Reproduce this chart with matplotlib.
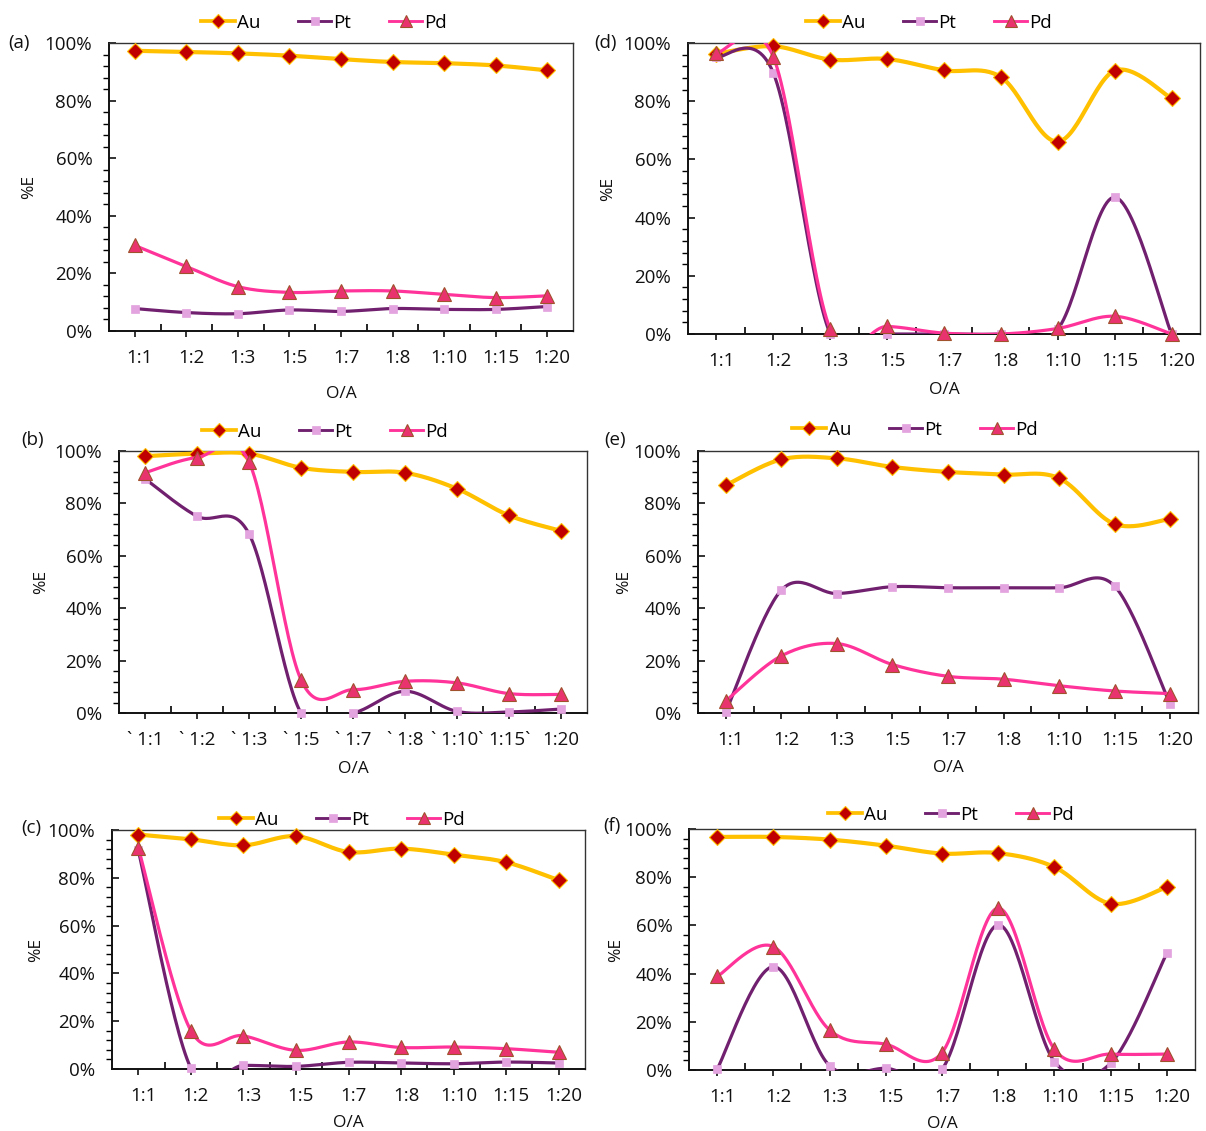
import numpy as np
import matplotlib
matplotlib.use("Agg")
import matplotlib.pyplot as plt
from matplotlib.ticker import FixedLocator, PercentFormatter
from matplotlib.transforms import ScaledTranslation

plt.rcParams['font.family'] = ['Open Sans', 'DejaVu Sans']

categories = ["1:1", "1:2", "1:3", "1:5", "1:7", "1:8", "1:10", "1:15", "1:20"]
labels_b = ["` 1:1", "` 1:2", "` 1:3", "` 1:5", "` 1:7", "` 1:8", "` 1:10`", "1:15`", "1:20"]

# values in % extraction
a_au = [97.3, 96.9, 96.4, 95.6, 94.4, 93.4, 93.0, 92.2, 90.5]
a_pt = [7.8, 6.4, 6.0, 7.3, 6.8, 7.8, 7.5, 7.5, 8.5]
a_pd = [29.7, 22.4, 15.4, 13.4, 13.9, 13.9, 12.7, 11.6, 12.2]

b_au = [98.0, 99.0, 99.0, 93.6, 92.0, 91.7, 85.6, 75.4, 69.5]
b_pt = [89.4, 75.1, 68.4, 0.0, 0.0, 8.3, 0.6, 0.4, 1.5]
b_pd = [91.7, 97.5, 95.8, 12.7, 8.9, 12.1, 11.5, 7.4, 7.1]

c_au = [98.1, 96.1, 93.6, 97.4, 90.8, 92.2, 89.7, 86.5, 79.0]
c_pt = [91.5, 0.4, 1.5, 1.1, 2.8, 2.5, 2.2, 2.9, 2.5]
c_pd = [92.6, 16.1, 13.9, 7.8, 11.3, 9.0, 9.2, 8.5, 7.0]

d_au = [96.3, 98.9, 94.3, 94.5, 90.6, 88.3, 66.1, 90.5, 81.0]
d_pt = [95.2, 89.7, 0.0, 0.0, 0.0, 0.0, 1.7, 47.0, 0.0]
d_pd = [96.6, 95.2, 1.7, 2.6, 0.3, 0.0, 1.9, 6.1, 0.0]

e_au = [86.9, 96.8, 97.2, 93.9, 92.0, 91.0, 89.6, 72.1, 74.1]
e_pt = [0.4, 46.9, 45.6, 48.2, 47.8, 47.8, 47.8, 48.4, 3.3]
e_pd = [4.6, 21.8, 26.5, 18.5, 14.0, 12.9, 10.4, 8.4, 7.4]

f_au = [96.7, 96.7, 95.6, 93.1, 89.8, 90.0, 84.2, 69.0, 75.9]
f_pt = [0.3, 42.9, 1.8, 0.7, 0.3, 60.2, 3.5, 2.8, 48.5]
f_pd = [38.8, 51.2, 16.6, 10.7, 7.2, 67.2, 8.6, 6.6, 6.6]

W, H = 1206, 1131
fig = plt.figure(figsize=(W / 100, H / 100), dpi=100)

# panel layout in pixels: box (left, right, top, bottom), ylabel x, xlabel y, tag x, tag y,
# legend center x, legend y, tick-label x shift
panels = [
    ("(a)", a_au, a_pt, a_pd, categories, (109, 573, 43, 331), 28, 392, 8, 43, 324, 23, 5),
    ("(d)", d_au, d_pt, d_pd, categories, (688, 1200, 43, 334), 607, 388, 594, 43, 929, 23, 5),
    ("(b)", b_au, b_pt, b_pd, labels_b, (119, 587, 451, 713), 40, 767, 21, 440, 325, 432, 0),
    ("(e)", e_au, e_pt, e_pd, categories, (698, 1198, 451, 713), 623, 766, 604, 440, 915, 430, 5),
    ("(c)", c_au, c_pt, c_pd, categories, (112, 585, 830, 1069), 35, 1121, 21, 828, 342, 820, 5),
    ("(f)", f_au, f_pt, f_pd, categories, (689, 1195, 829, 1070), 615, 1122, 603, 826, 951, 815, 5),
]


def smooth(y, n=30):
    """Excel-like smoothed line (cubic Bezier through the points)."""
    x = np.arange(len(y), dtype=float)
    y = np.asarray(y, dtype=float)
    P = np.column_stack([x, y])
    N = len(P)
    out = []
    for i in range(N - 1):
        p0 = P[i - 1] if i > 0 else P[i]
        p1 = P[i]
        p2 = P[i + 1]
        p3 = P[i + 2] if i + 2 < N else P[i + 1]
        c1 = p1 + (p2 - p0) / 6.0
        c2 = p2 - (p3 - p1) / 6.0
        t = np.linspace(0, 1, n)[:, None]
        seg = ((1 - t) ** 3) * p1 + 3 * ((1 - t) ** 2) * t * c1 + 3 * (1 - t) * t ** 2 * c2 + t ** 3 * p2
        out.append(seg if i == 0 else seg[1:])
    out = np.vstack(out)
    return out[:, 0], out[:, 1]


styles = {
    "Au": dict(color="#FFC000", lw=3.0, marker="D", ms=8.5, mfc="#C00000", mec="#FFC000", mew=0.8),
    "Pt": dict(color="#70206E", lw=2.3, marker="s", ms=6, mfc="#E3A3DF", mec="#E3A3DF", mew=0.5),
    "Pd": dict(color="#FF3399", lw=2.3, marker="^", ms=9.5, mfc="#E8336F", mec="#A0522D", mew=0.8),
}

FS = 13.5
for tag, au, pt, pd, xl, (l, r, t, b), ylx, xly, tx, ty, lgx, lgy, shift in panels:
    ax = fig.add_axes([l / W, 1 - b / H, (r - l) / W, (b - t) / H])
    x = np.arange(len(categories))
    handles = []
    for name, vals, z in (("Au", au, 3), ("Pt", pt, 4), ("Pd", pd, 5)):
        st = styles[name]
        sx, sy = smooth(vals)
        ax.plot(sx, sy, color=st["color"], lw=st["lw"], zorder=z, solid_capstyle="round")
        ax.plot(x, vals, ls="none", marker=st["marker"], ms=st["ms"], mfc=st["mfc"],
                mec=st["mec"], mew=st["mew"], zorder=z + 0.5, clip_on=False)
        h, = ax.plot([], [], color=st["color"], lw=st["lw"] * 0.9, marker=st["marker"],
                     ms=st["ms"] * 0.85, mfc=st["mfc"], mec=st["mec"], mew=st["mew"])
        handles.append(h)
    ax.set_xlim(-0.5, len(categories) - 0.5)
    ax.set_ylim(0, 100)
    ax.yaxis.set_major_locator(FixedLocator([0, 20, 40, 60, 80, 100]))
    ax.yaxis.set_minor_locator(FixedLocator([v for v in range(0, 101, 4) if v % 20 != 0]))
    ax.yaxis.set_major_formatter(PercentFormatter(100, decimals=0))
    ax.set_xticks(x)
    ax.set_xticklabels(xl)
    ax.xaxis.set_minor_locator(FixedLocator(np.arange(0.5, len(categories) - 1, 1.0)))
    ax.tick_params(axis="y", which="major", direction="in", length=5, width=1.2, pad=12,
                   labelsize=FS, colors="#111111")
    ax.tick_params(axis="y", which="minor", direction="out", length=4, width=1.0)
    ax.tick_params(axis="x", which="major", direction="out", length=4, width=1.2, pad=9,
                   labelsize=FS, colors="#111111")
    ax.tick_params(axis="x", which="minor", direction="in", length=5, width=1.2)
    if shift:
        off = ScaledTranslation(shift / 100, 0, fig.dpi_scale_trans)
        for lab in ax.get_xticklabels():
            lab.set_transform(lab.get_transform() + off)
    for sp in ("left", "bottom"):
        ax.spines[sp].set_linewidth(1.4)
        ax.spines[sp].set_color("#111111")
    for sp in ("top", "right"):
        ax.spines[sp].set_linewidth(1.0)
        ax.spines[sp].set_color("#333333")
    ax.set_ylabel("%E", fontsize=12.5, color="#111111")
    ax.yaxis.set_label_coords((ylx + 9 - l) / (r - l), 0.5)
    ax.set_xlabel("O/A", fontsize=12.5, color="#111111")
    ax.xaxis.set_label_coords(0.5, -(xly - 6 - b) / (b - t))
    fig.text(tx / W, 1 - ty / H, tag, fontsize=FS, ha="left", va="center", color="#111111")
    fig.legend(handles, ["Au", "Pt", "Pd"], loc="center", bbox_to_anchor=(lgx / W, 1 - lgy / H),
               ncol=3, frameon=False, fontsize=FS, handlelength=1.8, handletextpad=0.1,
               columnspacing=2.0, borderaxespad=0, borderpad=0)

fig.savefig("out.png", dpi=100, facecolor="white")
